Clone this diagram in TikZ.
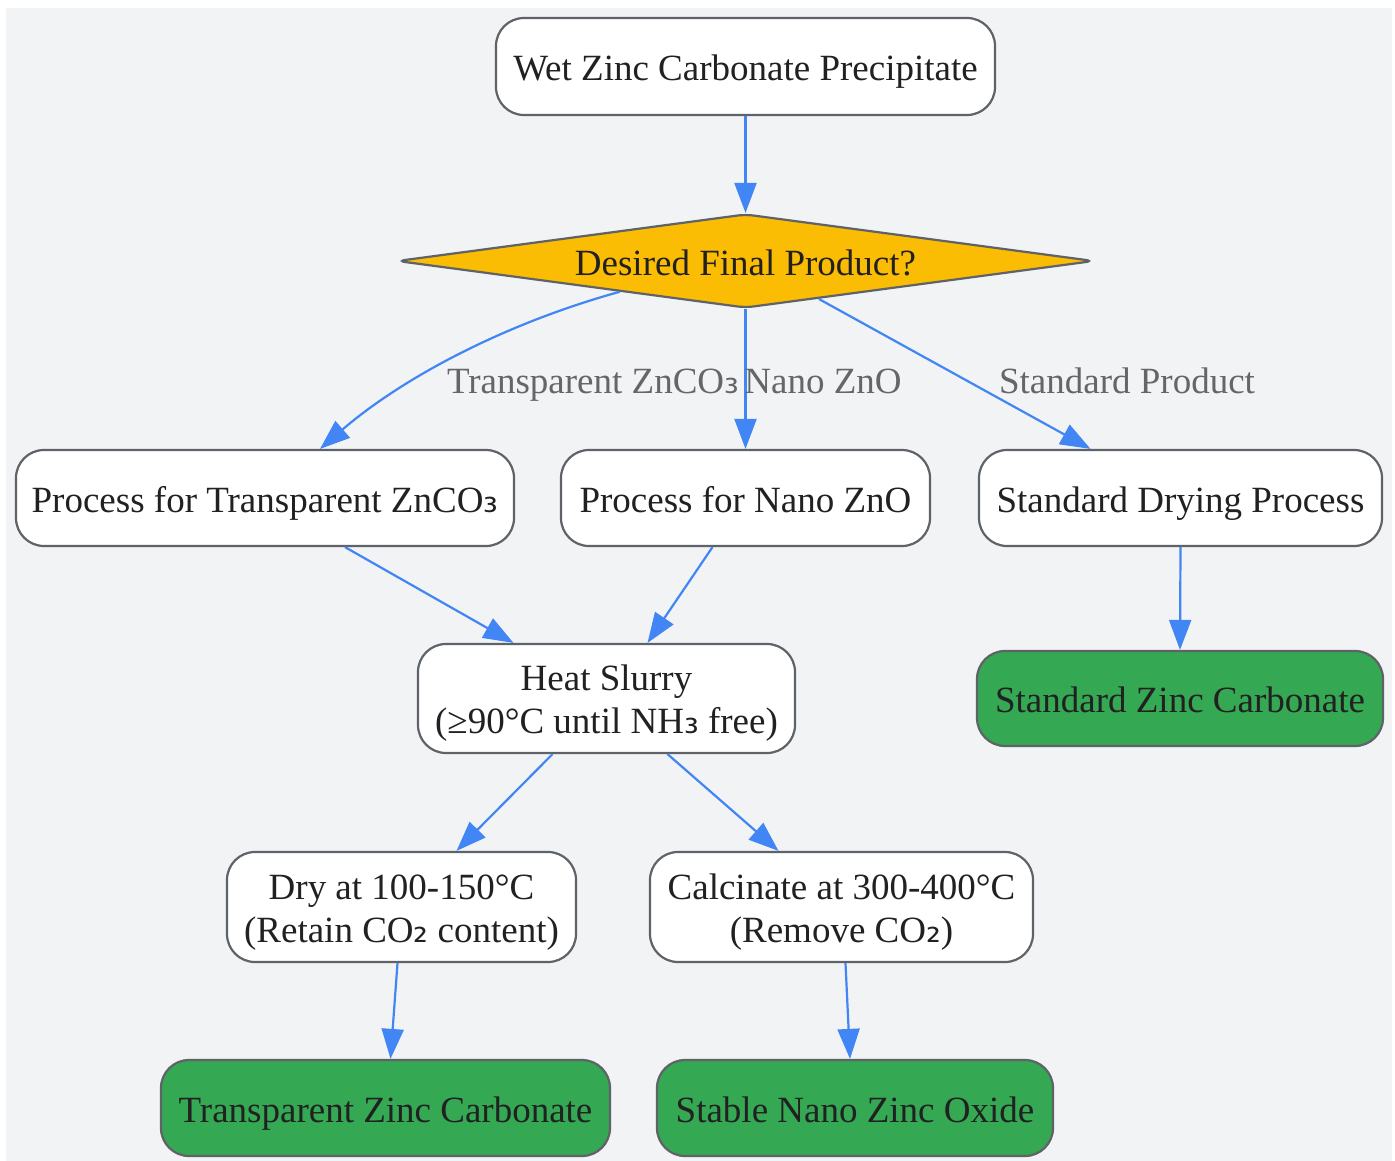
\documentclass[tikz,border=0pt]{standalone}
\usepackage{fontspec}
\setmainfont{Liberation Serif}
\newfontfamily\subf{DejaVu Sans}
\usetikzlibrary{arrows.meta,shapes.geometric,calc}
\newcommand{\sbt}[1]{{\subf #1}}
\newcommand{\topstrut}{\rule{0pt}{35pt}}
\definecolor{bgc}{RGB}{241,243,245}
\definecolor{bordc}{RGB}{95,99,104}
\definecolor{txtc}{RGB}{33,33,33}
\definecolor{lblc}{RGB}{102,102,102}
\definecolor{bluec}{RGB}{66,133,244}
\definecolor{greenc}{RGB}{52,168,83}
\definecolor{yellowc}{RGB}{251,188,4}
\begin{document}
\begin{tikzpicture}[x=1pt,y=-1pt,
 box/.style={draw=bordc, line width=2.2pt, rounded corners=28pt, fill=white, text=txtc, align=center, inner sep=0pt, font=\fontsize{37}{43}\selectfont},
 onel/.style={text height=34pt, text depth=5.6pt},
 endbox/.style={box, onel, fill=greenc},
 dia/.style={diamond, draw=bordc, line width=2.2pt, rounded corners=8pt, fill=yellowc, text=txtc, inner sep=0pt, aspect=7.49, onel, font=\fontsize{37}{43}\selectfont},
 flow/.style={draw=bluec, line width=2.2pt, -{Triangle[length=30pt,width=22pt]}},
 lbl/.style={text=lblc, font=\fontsize{37}{43}\selectfont, inner sep=0pt, onel}]
\useasboundingbox (0,0) rectangle (1395,1161);
\fill[bgc] (6,8) rectangle (1392,1161);

\node[box, onel, minimum width=499pt, minimum height=97pt] (wet) at (745.5,66.5) {Wet Zinc Carbonate Precipitate};
\node[dia, minimum width=697pt, minimum height=94pt] (dec) at (745.5,261) {Desired Final Product?};
\node[box, onel, minimum width=498pt, minimum height=96pt] (ptz) at (265,498) {Process for Transparent ZnCO\sbt{₃}};
\node[box, onel, minimum width=369pt, minimum height=96pt] (pnz) at (745.5,498) {Process for Nano ZnO};
\node[box, onel, minimum width=403pt, minimum height=96pt] (sdp) at (1180.5,498) {Standard Drying Process};
\node[box, minimum width=377pt, minimum height=109pt] (heat) at (606.5,698.5) {\topstrut Heat Slurry\\(≥90°C until NH\sbt{₃} free)};
\node[endbox, minimum width=406pt, minimum height=95pt] (szc) at (1180,698.5) {Standard Zinc Carbonate};
\node[box, minimum width=349pt, minimum height=110pt] (dry) at (401.5,907) {\topstrut Dry at 100-150°C\\(Retain CO\sbt{₂} content)};
\node[box, minimum width=383pt, minimum height=110pt] (calc) at (841.5,907) {\topstrut Calcinate at 300-400°C\\(Remove CO\sbt{₂})};
\node[endbox, minimum width=449pt, minimum height=96pt] (tzc) at (385.5,1108) {Transparent Zinc Carbonate};
\node[endbox, minimum width=396pt, minimum height=96pt] (snz) at (855,1108) {Stable Nano Zinc Oxide};

\draw[flow] (wet.south) -- (dec.north);
\draw[flow] ($(dec.west)!0.64!(dec.south)$) .. controls (500,325) and (400,380) .. ($(ptz.north)+(55,0)$);
\draw[flow] (dec.south) -- (pnz.north);
\draw[flow] ($(dec.east)!0.79!(dec.south)$) -- ($(sdp.north)+(-90,0)$);
\draw[flow] ($(ptz.south)+(80,0)$) -- ($(heat.north)+(-93,0)$);
\draw[flow] ($(pnz.south)+(-33,0)$) -- ($(heat.north)+(41,0)$);
\draw[flow] (sdp.south) -- (szc.north);
\draw[flow] ($(heat.south)+(-54,0)$) -- ($(dry.north)+(55,0)$);
\draw[flow] ($(heat.south)+(61,0)$) -- ($(calc.north)+(-63,0)$);
\draw[flow] ($(dry.south)+(-4,0)$) -- ($(tzc.north)+(5,0)$);
\draw[flow] ($(calc.south)+(4,0)$) -- ($(snz.north)+(-5,0)$);

\node[lbl] (l1) at (593,379) {Transparent ZnCO\sbt{₃}};
\node[lbl] (l2) at (823,379) {Nano ZnO};
\node[lbl] (l3) at (1127,379) {Standard Product};
\end{tikzpicture}
\end{document}
